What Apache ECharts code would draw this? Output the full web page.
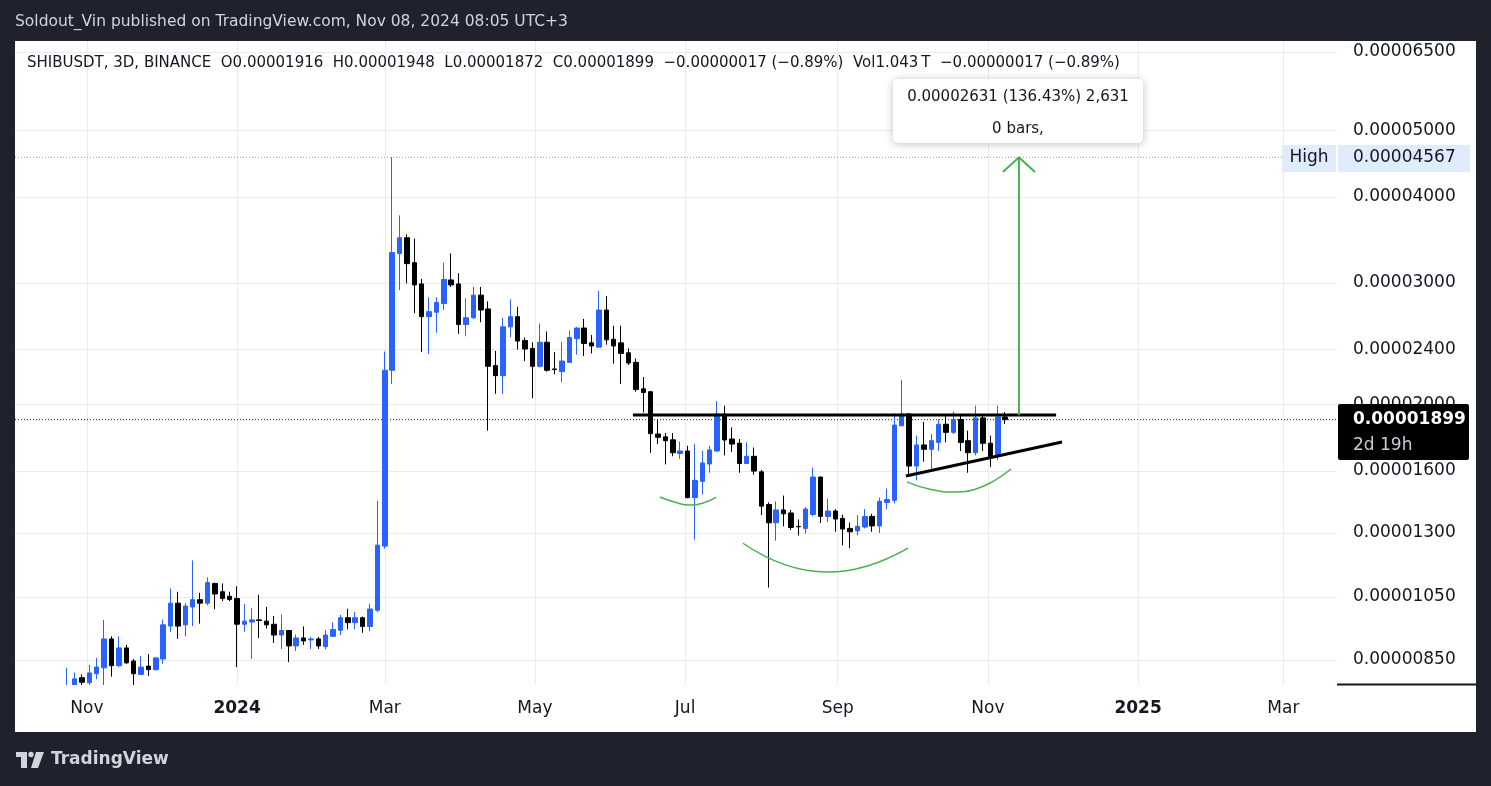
<!DOCTYPE html>
<html><head><meta charset="utf-8">
<script src="https://cdn.jsdelivr.net/npm/echarts@6/dist/echarts.min.js"></script>
<style>html,body{margin:0;padding:0;background:#1f222d}#c{width:1491px;height:786px}</style>
</head><body><div id="c"></div>
<script>
// ---------- DATA (prices in USDT) ----------
const firstCandle = '2023-10-24';   // 3D candles, first visible one
const candleStepDays = 3;
const opens  = [7.60,7.75,8.01,7.88,8.12,8.28,9.12,8.34,8.85,8.47,8.10,8.33,8.23,8.53,9.52,10.28,9.56,10.15,10.40,10.28,
  10.98,10.68,10.52,10.44,9.58,9.65,9.72,9.68,9.58,9.24,9.38,8.91,9.15,9.09,9.12,8.89,9.20,9.39,9.79,9.63,
  9.79,9.51,10.04,12.44,22.40,33.10,34.90,32.10,29.90,26.80,27.20,28.00,30.30,29.90,26.10,26.70,28.80,27.50,22.75,22.00,
  25.90,26.80,24.75,24.10,22.70,24.60,22.50,22.30,23.00,24.90,25.80,24.55,24.20,27.40,24.85,24.55,23.75,23.00,21.05,20.85,
  18.10,17.93,17.75,16.96,17.10,14.63,15.45,16.37,17.10,19.35,17.80,17.55,16.40,16.80,15.95,14.30,13.45,14.04,13.90,13.29,
  13.20,13.83,15.67,13.74,13.99,13.65,13.20,13.09,13.26,13.74,13.31,14.40,14.50,18.60,19.35,16.26,17.45,17.20,17.60,18.70,
  18.20,19.00,17.70,17.00,19.10,17.55,16.80,19.16];
const highs  = [8.28,8.15,8.10,8.36,8.56,9.72,9.20,9.20,8.94,8.53,8.61,8.67,8.59,9.73,10.80,10.68,10.28,11.86,10.64,11.21,
  11.01,10.98,10.68,10.88,10.25,10.11,10.57,10.15,9.85,9.90,9.40,9.26,9.51,9.18,9.18,9.39,9.64,9.88,10.09,9.98,
  9.83,10.26,14.47,23.85,45.67,37.60,35.30,34.80,30.40,28.60,28.60,32.10,33.10,31.00,28.50,29.60,29.60,28.20,23.90,26.70,
  28.40,27.70,25.00,24.60,26.20,25.50,23.80,24.60,25.60,25.90,26.60,25.20,29.20,28.70,26.00,26.00,24.10,23.30,21.90,20.90,
  19.00,18.16,18.16,17.65,17.40,17.50,17.10,17.40,20.20,19.90,18.50,17.80,17.60,17.30,16.05,14.40,14.45,14.73,14.04,13.60,
  14.18,16.17,15.70,14.58,14.08,13.82,13.46,13.80,14.08,13.86,14.63,15.08,19.40,21.70,19.40,18.00,18.85,18.10,19.00,19.20,
  19.50,19.35,18.30,19.90,19.25,18.00,19.90,19.48];
const lows   = [7.78,7.60,7.80,7.75,7.97,7.80,8.04,8.30,8.39,7.80,8.08,8.06,8.20,8.39,9.34,9.12,9.20,9.52,9.60,10.21,
  10.07,10.35,10.35,8.30,9.34,8.53,9.15,9.44,9.00,8.82,8.44,8.76,8.94,8.82,8.82,8.81,9.20,9.24,9.42,9.42,
  9.31,9.36,9.98,12.34,21.40,29.30,29.95,27.10,23.80,23.65,25.40,27.40,29.60,25.30,25.10,26.60,26.30,18.30,20.70,20.70,
  25.00,24.00,23.10,20.40,22.60,22.30,22.10,21.50,22.95,23.60,23.50,23.70,24.20,24.40,22.90,21.40,22.80,20.85,19.45,17.00,
  17.50,16.35,16.80,16.66,14.60,12.71,14.78,15.90,17.05,16.85,17.05,15.90,16.40,15.80,13.80,10.83,12.67,13.29,13.13,12.89,
  12.97,13.75,13.44,13.48,13.05,12.47,12.35,12.90,13.20,13.05,13.00,14.08,14.35,18.60,15.80,15.50,16.50,16.10,17.10,17.60,
  18.10,17.10,15.90,16.85,17.10,16.20,16.60,18.72];
const closes = [7.75,7.98,7.89,8.14,8.30,9.12,8.34,8.85,8.42,8.12,8.30,8.23,8.56,9.56,10.28,9.52,10.18,10.40,10.28,11.01,
  10.60,10.44,10.41,9.58,9.68,9.72,9.70,9.56,9.24,9.38,8.91,9.15,9.06,9.12,8.91,9.24,9.41,9.79,9.63,9.79,
  9.51,10.08,12.48,22.40,33.20,34.90,32.00,29.80,26.80,27.25,28.10,30.35,29.80,26.10,26.70,28.80,27.40,22.70,22.00,25.90,
  26.80,24.70,24.05,22.70,24.60,22.40,22.45,23.10,25.00,25.80,24.50,24.30,27.40,24.80,24.30,23.70,22.95,21.00,20.80,18.12,
  17.90,17.70,17.00,17.10,14.63,15.50,16.43,17.16,19.35,17.74,17.50,16.40,16.80,15.99,14.22,13.45,14.04,13.86,13.24,13.27,
  14.08,15.67,13.74,13.99,13.62,13.17,13.05,13.29,13.74,13.31,14.45,14.54,18.65,19.35,16.26,17.45,17.20,17.70,18.70,18.20,
  19.00,17.60,17.00,19.10,17.55,16.80,19.16,18.99];
const priceUnit = 1e-6;

// axis ticks
const yTicks = [0.0000085,0.0000105,0.000013,0.000016,0.00002,0.000024,0.00003,0.00004,0.00005,0.000065];
const xTickDates  = ['2023-11-01','2024-01-01','2024-03-01','2024-05-01','2024-07-01','2024-09-01','2024-11-01','2025-01-01','2025-03-01'];
const xTickLabels = ['Nov','2024','Mar','May','Jul','Sep','Nov','2025','Mar'];
const xRangeDays = [-90.2, 446.8];          // days from 2024-01-01
const yRange = [0.000007818, 0.00006738];

// drawings: x in days from 2024-01-01, y in price
const necklineDays = [160.8, 332.7];
const necklineY = [0.00001929, 0.00001929];
const trendDays = [271.7, 335.1];
const trendY = [0.00001573, 0.00001762];
const arrowDays = [317.6, 317.6];
const arrowY = [0.00001929, 0.00004567];
const arrowHeadDays = [311.1, 317.6, 324.1];
const arrowHeadY = [0.00004347, 0.00004567, 0.00004347];
const arcLeftDays = [171.8, 178.3, 184.0, 189.3, 194.6];
const arcLeftY = [0.00001466,0.00001439,0.00001427,0.00001437,0.00001466];
const arcMidDays = [205.5, 214.1, 222.6, 231.1, 239.6, 248.2, 256.7, 265.2, 272.5];
const arcMidY = [0.00001256,0.00001204,0.00001169,0.00001148,0.00001141,0.00001147,0.00001166,0.00001198,0.00001236];
const arcRightDays = [272.1, 281.9, 291.6, 299.8, 307.1, 314.4];
const arcRightY = [0.00001542,0.00001503,0.00001491,0.00001505,0.00001545,0.00001610];
const highValue = 0.00004567;
const highLineEndDay = 424.5;
const lastPrice = 0.00001899;

// ---------- BUILD ----------
const DAY = 86400000;
const T0 = Date.UTC(2024, 0, 1);
const t = s => Date.parse(s);
const D = d => T0 + d * DAY;
const L = p => Math.log10(p);
const t0 = t(firstCandle);
const candles = opens.map((o, i) => [t0 + i * candleStepDays * DAY,
  L(o * priceUnit), L(closes[i] * priceUnit), L(lows[i] * priceUnit), L(highs[i] * priceUnit)]);
const xTickTimes = xTickDates.map(t);
const yTicksLog = yTicks.map(L);
const pts = (ds, ys) => ds.map((d, i) => [D(d), L(ys[i])]);

const FONT = 'DejaVu Sans';
const TXT = '#131722';
const GRID = '#e9ebef';

function lineSeries(data, color, width, extra) {
  return Object.assign({
    type: 'line', data, symbol: 'none', silent: true, animation: false, z: 5,
    lineStyle: { color, width }
  }, extra || {});
}

const chart = echarts.init(document.getElementById('c'), null, { renderer: 'canvas' });
chart.setOption({
  backgroundColor: '#1f222d',
  animation: false,
  textStyle: { fontFamily: FONT },
  grid: { left: 15, top: 41, right: 154, bottom: 101, containLabel: false },
  graphic: [
    { type: 'rect', z: -10, shape: { x: 15, y: 41, width: 1461, height: 691 }, style: { fill: '#ffffff' } },
    // clip candles at plot bottom
    { type: 'rect', z: 50, shape: { x: 15, y: 685, width: 1322, height: 13 }, style: { fill: '#ffffff' } },
    { type: 'text', z: 10, x: 15, y: 22, style: { text: 'Soldout_Vin published on TradingView.com, Nov 08, 2024 08:05 UTC+3',
      fill: '#d1d4dc', font: '15.5px "DejaVu Sans"', verticalAlign: 'middle' } },
    { type: 'text', z: 10, x: 27, y: 63, style: { text: 'SHIBUSDT, 3D, BINANCE  O0.00001916  H0.00001948  L0.00001872  C0.00001899  \u22120.00000017 (\u22120.89%)  Vol1.043\u2009T  \u22120.00000017 (\u22120.89%)',
      fill: TXT, font: '15px "DejaVu Sans"', verticalAlign: 'middle' } },
    // measure box
    { type: 'rect', z: 20, shape: { x: 893, y: 79, width: 250, height: 64, r: 5 },
      style: { fill: '#ffffff', shadowBlur: 8, shadowColor: 'rgba(0,0,0,0.25)', shadowOffsetY: 1 } },
    { type: 'text', z: 21, x: 1018, y: 97, style: { text: '0.00002631 (136.43%) 2,631', fill: TXT, font: '15px "DejaVu Sans"', align: 'center', verticalAlign: 'middle' } },
    { type: 'text', z: 21, x: 1018, y: 129, style: { text: '0 bars,', fill: TXT, font: '15px "DejaVu Sans"', align: 'center', verticalAlign: 'middle' } },
    // high label
    { type: 'rect', z: 20, shape: { x: 1282, y: 145, width: 54, height: 27 }, style: { fill: '#e0ebfb' } },
    { type: 'rect', z: 20, shape: { x: 1338, y: 145, width: 132, height: 27 }, style: { fill: '#e0ebfb' } },
    { type: 'text', z: 21, x: 1309, y: 158, style: { text: 'High', fill: TXT, font: '17px "DejaVu Sans"', align: 'center', verticalAlign: 'middle' } },
    { type: 'text', z: 21, x: 1353, y: 158, style: { text: '0.00004567', fill: TXT, font: '17px "DejaVu Sans"', verticalAlign: 'middle' } },
    // last price label
    { type: 'rect', z: 20, shape: { x: 1338, y: 404, width: 131, height: 56, r: 2 }, style: { fill: '#000000' } },
    { type: 'text', z: 21, x: 1353, y: 420, style: { text: '0.00001899', fill: '#ffffff', font: 'bold 17px "DejaVu Sans"', verticalAlign: 'middle' } },
    { type: 'text', z: 21, x: 1353, y: 446, style: { text: '2d 19h', fill: '#c9cbd1', font: '17px "DejaVu Sans"', verticalAlign: 'middle' } },
    // bottom-right separator
    { type: 'line', z: 10, shape: { x1: 1337, y1: 684.5, x2: 1476, y2: 684.5 }, style: { stroke: '#131722', lineWidth: 2 } },
    // TradingView logo
    { type: 'rect', z: 10, shape: { x: 16, y: 752, width: 11, height: 5 }, style: { fill: '#d1d4dc' } },
    { type: 'rect', z: 10, shape: { x: 21, y: 752, width: 6, height: 16 }, style: { fill: '#d1d4dc' } },
    { type: 'circle', z: 10, shape: { cx: 31, cy: 754.5, r: 2.7 }, style: { fill: '#d1d4dc' } },
    { type: 'polygon', z: 10, shape: { points: [[36, 752], [44, 752], [38, 768], [31, 768]] }, style: { fill: '#d1d4dc' } },
    { type: 'text', z: 10, x: 51, y: 760, style: { text: 'TradingView', fill: '#d1d4dc', font: '600 17px "DejaVu Sans"', verticalAlign: 'middle' } }
  ],
  xAxis: {
    type: 'value', min: D(xRangeDays[0]), max: D(xRangeDays[1]),
    axisLine: { show: false },
    axisTick: { show: false, customValues: xTickTimes },
    axisLabel: {
      customValues: xTickTimes, margin: 15, color: TXT, fontSize: 17, fontFamily: FONT,
      formatter: v => {
        let i = -1;
        xTickTimes.forEach((tt, k) => { if (Math.abs(tt - v) < DAY) i = k; });
        const s = i >= 0 ? xTickLabels[i] : '';
        return /^\d{4}$/.test(s) ? '{b|' + s + '}' : s;
      },
      rich: { b: { fontWeight: 'bold', fontSize: 17, color: TXT, fontFamily: FONT } }
    },
    splitLine: { show: true, lineStyle: { color: GRID, width: 1 } }
  },
  yAxis: {
    type: 'value', position: 'right', min: L(yRange[0]), max: L(yRange[1]),
    axisLine: { show: false },
    axisTick: { show: false, customValues: yTicksLog },
    axisLabel: { customValues: yTicksLog, margin: 16, color: TXT, fontSize: 17, fontFamily: FONT,
      formatter: v => Math.pow(10, v).toFixed(8) },
    splitLine: { show: true, lineStyle: { color: GRID, width: 1 } }
  },
  series: [
    { type: 'candlestick', data: candles, encode: { x: 0, y: [1, 2, 3, 4] }, barWidth: 5, z: 3,
      animation: false, silent: true,
      itemStyle: { color: '#2962ff', color0: '#000000', borderColor: '#2962ff', borderColor0: '#000000', borderWidth: 1 } },
    lineSeries([[D(xRangeDays[0]), L(highValue)], [D(highLineEndDay), L(highValue)]], '#9598a1', 1, { z: 1, lineStyle: { color: '#9598a1', width: 1, type: [1, 2] } }),
    lineSeries([[D(xRangeDays[0]), L(lastPrice)], [D(xRangeDays[1]), L(lastPrice)]], '#131722', 1, { z: 1, lineStyle: { color: '#131722', width: 1, type: [1, 2] } }),
    lineSeries(pts(necklineDays, necklineY), '#000000', 3),
    lineSeries(pts(trendDays, trendY), '#000000', 3),
    lineSeries(pts(arrowDays, arrowY), '#4caf50', 2),
    lineSeries(pts(arrowHeadDays, arrowHeadY), '#4caf50', 2),
    lineSeries(pts(arcLeftDays, arcLeftY), '#4caf50', 1.5, { smooth: 0.5 }),
    lineSeries(pts(arcMidDays, arcMidY), '#4caf50', 1.5, { smooth: 0.5 }),
    lineSeries(pts(arcRightDays, arcRightY), '#4caf50', 1.5, { smooth: 0.5 })
  ]
});
</script></body></html>
